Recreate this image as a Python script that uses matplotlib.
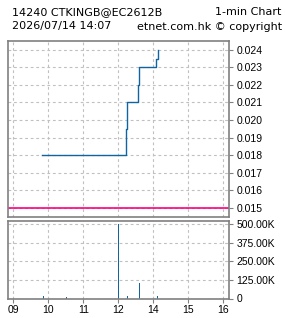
import matplotlib
matplotlib.use("Agg")
import matplotlib.pyplot as plt
from matplotlib.ticker import FixedLocator

plt.rcParams['font.family'] = ['Liberation Sans', 'DejaVu Sans']

# ---- data ----
x_labels = ["09", "10", "11", "12", "14", "15", "16"]
price_x = [0.81, 3.229, 3.257, 3.571, 3.600, 4.086, 4.120]
price_y = [0.018, 0.0195, 0.021, 0.022, 0.023, 0.0235, 0.024]
prev_close = 0.015
vol_x = [0.857, 1.514, 3.000, 3.257, 3.600, 4.114]
vol_y = [20000, 10000, 500000, 20000, 105000, 20000]
price_ticks = [0.015, 0.016, 0.017, 0.018, 0.019, 0.020, 0.021, 0.022, 0.023, 0.024]
vol_ticks = [0, 125000, 250000, 375000, 500000]
vol_tick_labels = ["0", "125.00K", "250.00K", "375.00K", "500.00K"]
title_left1 = "14240 CTKINGB@EC2612B"
title_right1 = "1-min Chart"
title_left2 = "2026/07/14 14:07"
title_right2 = "etnet.com.hk \u00a9 copyright"

W, H = 285, 318
fig = plt.figure(figsize=(W / 100, H / 100), dpi=100)
fig.patch.set_facecolor("white")

frame_c = "#808080"
grid_c = "#C0C0C0"
line_c = "#1064A0"
xmin, xmax = -0.152, 6.163

def px_ax(l, t, r, b):
    return fig.add_axes([l / W, 1 - b / H, (r - l) / W, (b - t) / H])

ax1 = px_ax(8, 41, 229, 216.5)
ax2 = px_ax(8, 220.7, 229, 298.5)

for ax in (ax1, ax2):
    ax.set_xlim(xmin, xmax)
    for s in ax.spines.values():
        s.set_color(frame_c)
        s.set_linewidth(1.2)
    ax.xaxis.set_major_locator(FixedLocator(range(len(x_labels))))
    ax.grid(True, color=grid_c, linestyle=(0, (2.5, 2.5)), linewidth=0.8)
    ax.set_axisbelow(True)
    ax.yaxis.tick_right()
    ax.tick_params(axis='y', which='both', direction='out', length=3, color=frame_c,
                   labelsize=7.5, pad=2.5, labelcolor='black')
    ax.tick_params(axis='x', direction='out', length=3, color=frame_c, labelsize=7.5,
                   pad=1.5)

# price
ax1.set_ylim(0.014486, 0.024514)
ax1.yaxis.set_major_locator(FixedLocator(price_ticks))
ax1.set_yticklabels([f"{v:.3f}" for v in price_ticks])
ax1.tick_params(axis='x', length=0, labelbottom=False)
ax1.axhline(prev_close, color="#FF0080", linewidth=1.2)
ax1.plot(price_x, price_y, drawstyle='steps-post', color=line_c, linewidth=1.0)

# volume
ax2.set_ylim(0, 522600)
ax2.yaxis.set_major_locator(FixedLocator(vol_ticks))
ax2.set_yticklabels(vol_tick_labels)
ax2.set_xticklabels(x_labels)
ax2.bar(vol_x, vol_y, width=0.02, color=line_c, linewidth=0)

fs = 8
tfam = ['DejaVu Sans']
fig.text(12 / W, 1 - 15.3 / H, title_left1, fontsize=fs, ha='left', va='baseline', family=tfam)
fig.text(281 / W, 1 - 15.3 / H, title_right1, fontsize=fs, ha='right', va='baseline', family=tfam)
fig.text(12 / W, 1 - 29.5 / H, title_left2, fontsize=fs, ha='left', va='baseline', family=tfam)
fig.text(282 / W, 1 - 29.5 / H, title_right2, fontsize=fs, ha='right', va='baseline', family=tfam)

fig.savefig("out.png", dpi=100, facecolor="white")
